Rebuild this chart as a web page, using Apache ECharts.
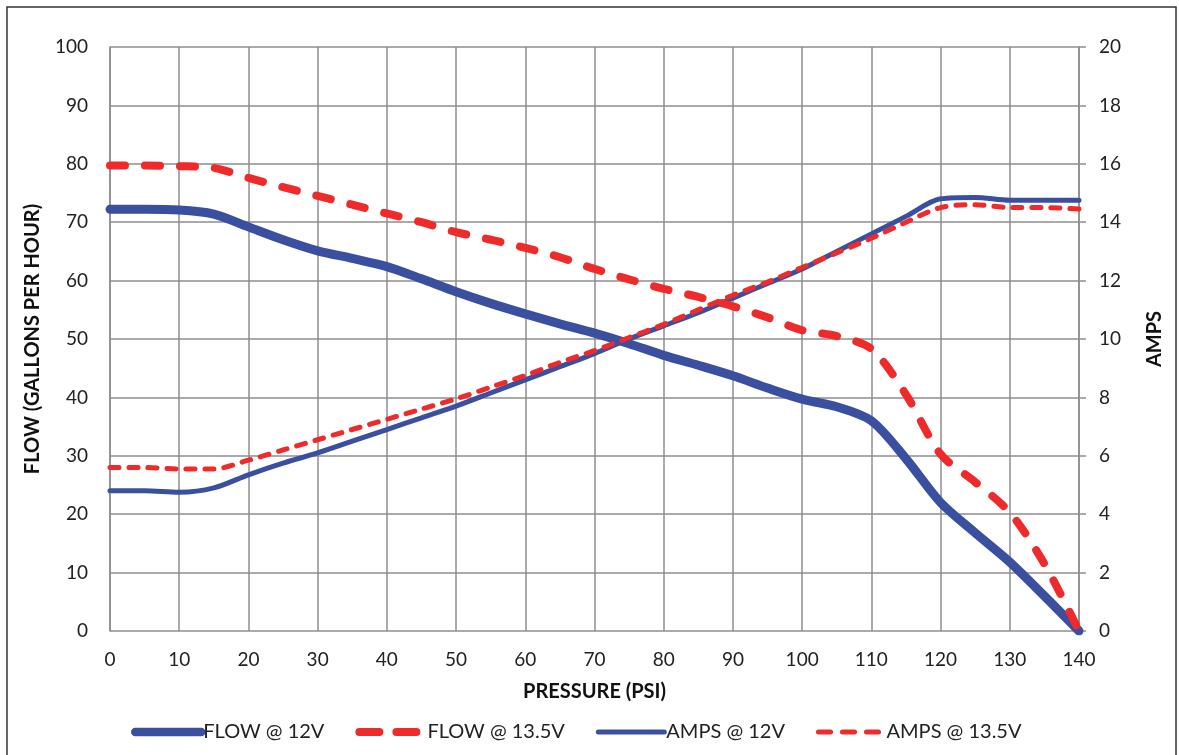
<!DOCTYPE html>
<html><head><meta charset="utf-8">
<script src="https://cdn.jsdelivr.net/npm/echarts@6/dist/echarts.min.js"></script>
<style>html,body{margin:0;padding:0;background:#fff}#c{width:1179px;height:755px}</style>
</head><body><div id="c"></div>
<script>
const psi = [0,5,10,15,20,25,30,35,40,45,50,55,60,65,70,75,80,85,90,95,100,105,110,115,120,125,130,135,140];
const flow12 = [72.2,72.2,72.1,71.4,69.2,67,65.1,63.8,62.4,60.3,58.1,56.1,54.3,52.6,51,49.2,47.2,45.5,43.7,41.6,39.7,38.4,36,29.5,22,16.8,11.8,6,0];
const flow135 = [79.7,79.7,79.6,79.3,77.6,76,74.5,73,71.5,70,68.3,67,65.6,64,62,60.2,58.6,57.2,55.6,53.7,51.5,50.5,48.3,40.5,30.3,25.5,20.3,11.5,0];
const amps12 = [4.8,4.8,4.75,4.9,5.35,5.75,6.1,6.5,6.9,7.3,7.7,8.15,8.6,9.05,9.5,10.0,10.45,10.9,11.4,11.9,12.4,13.0,13.6,14.2,14.8,14.85,14.75,14.75,14.75];
const amps135 = [5.6,5.6,5.55,5.55,5.85,6.2,6.55,6.9,7.25,7.6,7.95,8.35,8.75,9.2,9.6,10.05,10.5,11.0,11.5,11.95,12.45,12.95,13.45,14.0,14.5,14.6,14.5,14.5,14.45];
const seriesNames = ['FLOW @ 12V','FLOW @ 13.5V','AMPS @ 12V','AMPS @ 13.5V'];
const xTitle = 'PRESSURE (PSI)';
const yTitle = 'FLOW (GALLONS PER HOUR)';
const y2Title = 'AMPS';

const BLUE = '#3a4fa0', RED = '#ee2a2a', GRID = '#8e8e8e';
const FONT = 'Lato';
const pairs = v => psi.map((p,i)=>[p,v[i]]);
const hideSym = {opacity:0};

const chart = echarts.init(document.getElementById('c'));
chart.setOption({
  animation:false,
  textStyle:{fontFamily:FONT},
  graphic:[{type:'rect',shape:{x:7,y:7,width:1169,height:760},style:{fill:'none',stroke:'#333',lineWidth:1.5},silent:true}],
  grid:{left:110,right:100,top:47,bottom:124,containLabel:false},
  legend:{
    top:717, left:126, itemWidth:66, itemHeight:10, itemGap:31,
    textStyle:{fontSize:20,color:'#222',fontFamily:FONT,padding:[0,0,0,-3]},
    data:[
      {name:seriesNames[0],itemStyle:hideSym,lineStyle:{width:8.5,cap:'round'}},
      {name:seriesNames[1],itemStyle:hideSym,lineStyle:{width:8,type:[20,17],cap:'round'}},
      {name:seriesNames[2],itemStyle:hideSym,lineStyle:{width:5,cap:'round'}},
      {name:seriesNames[3],itemStyle:hideSym,lineStyle:{width:5,type:[12,12],cap:'round'}}
    ]
  },
  xAxis:{type:'value',min:0,max:140,interval:10,
    name:xTitle,nameLocation:'middle',nameGap:51,
    nameTextStyle:{fontSize:20,fontWeight:'bold',color:'#111'},
    axisLine:{show:false},axisTick:{show:false},
    axisLabel:{fontSize:19,color:'#222',margin:19},
    splitLine:{show:true,lineStyle:{color:GRID,width:1.5}}},
  yAxis:[{type:'value',min:0,max:100,interval:10,position:'left',
    name:yTitle,nameLocation:'middle',nameGap:67,nameRotate:90,
    nameTextStyle:{fontSize:20,fontWeight:'bold',color:'#111'},
    axisLine:{show:true,lineStyle:{color:GRID,width:1.5}},axisTick:{show:false},
    axisLabel:{fontSize:19,color:'#222',margin:22},
    splitLine:{show:true,lineStyle:{color:GRID,width:1.5}}},
   {type:'value',min:0,max:20,interval:2,position:'right',
    name:y2Title,nameLocation:'middle',nameGap:66,nameRotate:90,
    nameTextStyle:{fontSize:20,fontWeight:'bold',color:'#111'},
    axisLine:{show:true,lineStyle:{color:GRID,width:1.5}},
    axisTick:{show:true,length:7,lineStyle:{color:GRID,width:1.5}},
    axisLabel:{fontSize:19,color:'#222',margin:20},
    splitLine:{show:false}}],
  series:[
    {name:seriesNames[0],type:'line',yAxisIndex:0,data:pairs(flow12),smooth:0.3,symbol:'none',
     lineStyle:{color:BLUE,width:9,cap:'round'},itemStyle:{color:BLUE},z:3},
    {name:seriesNames[1],type:'line',yAxisIndex:0,data:pairs(flow135),smooth:0.3,symbol:'none',
     lineStyle:{color:RED,width:8,type:[15,20],cap:'round'},itemStyle:{color:RED},z:4},
    {name:seriesNames[2],type:'line',yAxisIndex:1,data:pairs(amps12),smooth:0.3,symbol:'none',
     lineStyle:{color:BLUE,width:5,cap:'round'},itemStyle:{color:BLUE},z:3},
    {name:seriesNames[3],type:'line',yAxisIndex:1,data:pairs(amps135),smooth:0.3,symbol:'none',
     lineStyle:{color:RED,width:5,type:[9,10],cap:'round'},itemStyle:{color:RED},z:4}
  ]
});
</script></body></html>
